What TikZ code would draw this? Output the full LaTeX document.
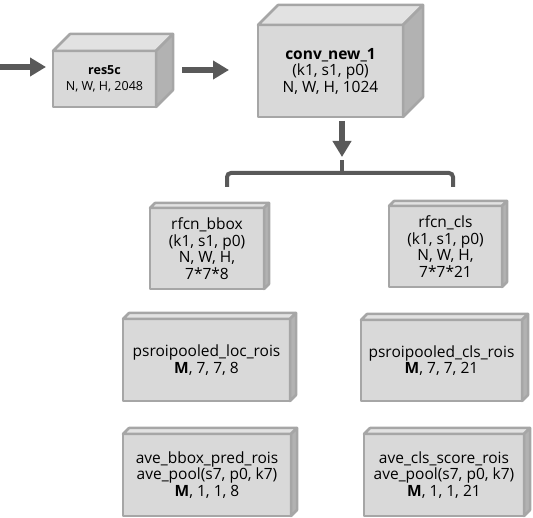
\documentclass[tikz,border=0pt]{standalone}
\usepackage{fontspec}
\setmainfont{Open Sans}
\usetikzlibrary{arrows.meta}
\definecolor{facefront}{HTML}{D9D9D9}
\definecolor{facetop}{HTML}{E2E2E2}
\definecolor{faceside}{HTML}{B2B2B2}
\definecolor{faceedge}{HTML}{A6A6A6}
\definecolor{flowgray}{HTML}{595959}
\tikzset{
    block/.style={rectangle,draw=faceedge,fill=facefront,line width=2.5pt,
        outer sep=0pt,align=center,inner sep=2pt,line join=round,
        font=\fontsize{15.5}{16.5}\selectfont},
    smallblock/.style={block,font=\fontsize{12.5}{16}\selectfont},
    bigarrow/.style={draw=flowgray,line width=6pt,
        -{Triangle[width=18pt,length=16pt]}},
    bracket/.style={draw=flowgray,line width=4pt,rounded corners=4pt}
}
\begin{document}
\begin{tikzpicture}[x=1pt,y=-1pt]
                \useasboundingbox (0,0) rectangle (533,518);
                \node[smallblock,minimum width=103pt,minimum height=56pt] (res) at(104.5,79){\textbf{res5c}\\N, W, H, 2048};
                \node[block,minimum width=145pt,minimum height=92pt] (conv) at(330.5,71){\textbf{conv\_new\_1}\\(k1, s1, p0)\\N, W, H, 1024};
                \node[block,minimum width=114pt,minimum height=81pt] (bbox) at(207,248.5){rfcn\_bbox\\(k1, s1, p0)\\N, W, H,\\7*7*8};
                \node[block,minimum width=113pt,minimum height=81pt] (cls) at(445.5,246.5){rfcn\_cls\\(k1, s1, p0)\\N, W, H,\\7*7*21};
                \node[block,minimum width=167pt,minimum height=82pt] (locrois) at(206.5,360){psroipooled\_loc\_rois\\\textbf{M}, 7, 7, 8};
                \node[block,minimum width=161pt,minimum height=81pt] (clsrois) at(441.5,360.5){psroipooled\_cls\_rois\\\textbf{M}, 7, 7, 21};
                \node[block,minimum width=168pt,minimum height=82pt] (bboxpred) at(207,475){ave\_bbox\_pred\_rois\\ave\_pool(s7, p0, k7)\\\textbf{M}, 1, 1, 8};
                \node[block,minimum width=160pt,minimum height=82pt] (clsscore) at(444,475){ave\_cls\_score\_rois\\ave\_pool(s7, p0, k7)\\\textbf{M}, 1, 1, 21};
                \foreach \n/\d in {res/17,conv/20,bbox/5,cls/5,locrois/6,clsrois/6,bboxpred/6,clsscore/6}{
                    \filldraw[fill=facetop,draw=faceedge,line width=2.5pt,line join=round]
                        (\n.north west) -- ++(\d,-\d) -- ([shift={(\d,-\d)}]\n.north east) -- (\n.north east) -- cycle;
                    \filldraw[fill=faceside,draw=faceedge,line width=2.5pt,line join=round]
                        (\n.north east) -- ++(\d,-\d) -- ([shift={(\d,-\d)}]\n.south east) -- (\n.south east) -- cycle;
                }
                \coordinate (in) at(0,67);
                \coordinate (fork) at(342,157);
                \coordinate (bl) at(227,187);
                \coordinate (br) at(453,187);
                \draw[bigarrow,shorten >=7pt] (in) --([yshift=12pt]res.west);
                \draw[bigarrow,shorten <=26pt,shorten >=29pt] ([yshift=9pt]res.east) --([yshift=9pt]res.east -| conv.west);
                \draw[bigarrow,shorten <=4pt] (fork |- conv.south) --(fork);
                \draw[bracket] (bl) --++(0,-14) --++(226,0) --(br);
                \draw[draw=flowgray,line width=4pt] (342,173) --(342,160);
            \end{tikzpicture}
\end{document}
